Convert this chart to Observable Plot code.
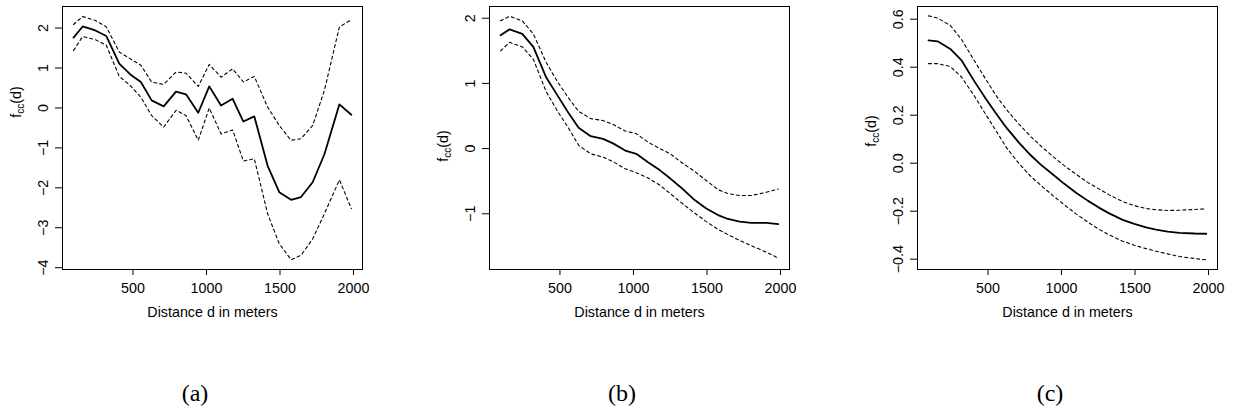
<!DOCTYPE html>
<html>
<head>
<meta charset="utf-8">
<script src="https://cdn.jsdelivr.net/npm/d3@7"></script>
<script src="https://cdn.jsdelivr.net/npm/@observablehq/plot@0.6"></script>
<style>
  body { margin: 0; background: #fff; }
  #wrap { position: relative; width: 1234px; height: 417px; overflow: hidden; background: #fff; }
  .panel { position: absolute; top: 0; }
  .cap { position: absolute; top: 381px; font-family: "Liberation Serif", "Times New Roman", serif; font-size: 24px; line-height: 1; transform: translateX(-50%); color: #000; }
</style>
</head>
<body>
<div id="wrap"></div>
<script>
// Distance grid (meters)
const distance = [96, 158, 244, 319, 407, 482, 554, 627, 709, 793, 861, 944, 1019, 1099, 1178, 1251, 1325, 1416, 1495, 1575, 1643, 1722, 1802, 1904, 1985];

// Panel (a)
const fitA   = [1.76, 2.04, 1.94, 1.80, 1.11, 0.84, 0.65, 0.19, 0.04, 0.41, 0.34, -0.12, 0.54, 0.06, 0.23, -0.34, -0.21, -1.45, -2.11, -2.30, -2.23, -1.86, -1.16, 0.09, -0.17];
const upperA = [2.09, 2.29, 2.19, 2.03, 1.40, 1.23, 1.07, 0.65, 0.59, 0.90, 0.87, 0.54, 1.09, 0.77, 0.98, 0.65, 0.79, 0.02, -0.44, -0.81, -0.77, -0.44, 0.44, 2.03, 2.21];
const lowerA = [1.44, 1.79, 1.71, 1.57, 0.79, 0.56, 0.27, -0.19, -0.48, -0.06, -0.19, -0.81, 0.00, -0.65, -0.55, -1.33, -1.27, -2.65, -3.40, -3.80, -3.69, -3.28, -2.65, -1.80, -2.52];

// Panel (b)
const fitB   = [1.74, 1.83, 1.76, 1.56, 1.09, 0.82, 0.56, 0.32, 0.19, 0.15, 0.08, -0.03, -0.08, -0.21, -0.33, -0.46, -0.60, -0.79, -0.92, -1.02, -1.08, -1.12, -1.14, -1.14, -1.16];
const upperB = [1.96, 2.03, 1.96, 1.76, 1.32, 1.03, 0.79, 0.57, 0.46, 0.43, 0.37, 0.27, 0.23, 0.10, 0.00, -0.08, -0.21, -0.35, -0.49, -0.63, -0.69, -0.72, -0.72, -0.67, -0.62];
const lowerB = [1.50, 1.63, 1.56, 1.37, 0.87, 0.58, 0.33, 0.05, -0.08, -0.13, -0.20, -0.31, -0.37, -0.45, -0.56, -0.69, -0.83, -0.99, -1.12, -1.24, -1.32, -1.41, -1.49, -1.59, -1.68];

// Panel (c)
const fitC   = [0.512, 0.508, 0.476, 0.430, 0.342, 0.272, 0.208, 0.147, 0.087, 0.032, -0.007, -0.048, -0.086, -0.123, -0.156, -0.184, -0.209, -0.236, -0.253, -0.267, -0.277, -0.285, -0.290, -0.293, -0.294];
const upperC = [0.614, 0.605, 0.574, 0.517, 0.428, 0.353, 0.283, 0.223, 0.164, 0.110, 0.071, 0.027, -0.010, -0.046, -0.080, -0.106, -0.132, -0.160, -0.177, -0.189, -0.194, -0.197, -0.196, -0.193, -0.190];
const lowerC = [0.415, 0.415, 0.403, 0.360, 0.281, 0.206, 0.136, 0.064, 0.000, -0.056, -0.093, -0.136, -0.173, -0.211, -0.245, -0.274, -0.299, -0.325, -0.342, -0.356, -0.367, -0.378, -0.389, -0.397, -0.403];

// Ticks and labels
const xTicks  = [500, 1000, 1500, 2000];
const yTicksA = [-4, -3, -2, -1, 0, 1, 2];
const yTicksB = [-1, 0, 1, 2];
const yTicksC = [-0.4, -0.2, 0, 0.2, 0.4, 0.6];
const xLabel = "Distance d in meters";
const captions = ["(a)", "(b)", "(c)"];

const FONT = "'Liberation Sans', Arial, Helvetica, sans-serif";
const W = 380, H = 320, ML = 62, MR = 18, MT = 6, MB = 51;

const fmtInt = d3.format("d");
const fmt1 = d3.format(".1f");
const fmtX = d => String(d);

function panel({fit, lower, upper, yDomain, yTicks, yFormat, left, labelY}) {
  const rows = distance.map((d, i) => ({d, fit: fit[i], lower: lower[i], upper: upper[i]}));
  const svg = Plot.plot({
    width: W, height: H,
    marginLeft: ML, marginRight: MR, marginTop: MT, marginBottom: MB,
    style: {fontFamily: FONT, fontSize: "14.3px", color: "black", background: "white", overflow: "visible"},
    x: {domain: [21, 2061]},
    y: {domain: yDomain},
    marks: [
      Plot.axisX({ticks: xTicks, tickSize: 6, tickPadding: 7, tickFormat: fmtX, label: null, fontSize: 14.3}),
      Plot.axisY({ticks: yTicks, tickSize: 7, tickPadding: 8, tickRotate: -90, tickFormat: yFormat, label: null, fontSize: 14.3}),
      Plot.line(rows, {x: "d", y: "upper", stroke: "black", strokeWidth: 1.1, strokeDasharray: "3,3"}),
      Plot.line(rows, {x: "d", y: "lower", stroke: "black", strokeWidth: 1.1, strokeDasharray: "3,3"}),
      Plot.line(rows, {x: "d", y: "fit", stroke: "black", strokeWidth: 1.8}),
      Plot.frame({stroke: "black", strokeWidth: 1}),
      Plot.text([xLabel], {text: d => d, frameAnchor: "bottom", dy: 43, lineAnchor: "middle", fontSize: 14.3, fill: "black"})
    ]
  });
  const t = d3.select(svg).append("text")
    .attr("transform", `translate(${ML - 40.6},${labelY}) rotate(-90)`)
    .attr("text-anchor", "middle")
    .attr("font-family", FONT)
    .attr("font-size", 14.3)
    .attr("fill", "black");
  t.append("tspan").text("f");
  t.append("tspan").attr("font-size", 10).attr("dy", 3).text("cc");
  t.append("tspan").attr("dy", -3).text("(d)");
  svg.classList.add("panel");
  svg.style.left = left + "px";
  svg.style.position = "absolute";
  return svg;
}

const wrap = document.getElementById("wrap");
wrap.appendChild(panel({fit: fitA, lower: lowerA, upper: upperA, yDomain: [-4.045, 2.54], yTicks: yTicksA, yFormat: fmtInt, left: 0, labelY: 102}));
wrap.appendChild(panel({fit: fitB, lower: lowerB, upper: upperB, yDomain: [-1.855, 2.18], yTicks: yTicksB, yFormat: fmtInt, left: 427, labelY: 146}));
wrap.appendChild(panel({fit: fitC, lower: lowerC, upper: upperC, yDomain: [-0.443, 0.653], yTicks: yTicksC, yFormat: fmt1, left: 855, labelY: 131}));

const capX = [195, 622, 1050];
captions.forEach((c, i) => {
  const div = document.createElement("div");
  div.className = "cap";
  div.style.left = capX[i] + "px";
  div.textContent = c;
  wrap.appendChild(div);
});
</script>
</body>
</html>
